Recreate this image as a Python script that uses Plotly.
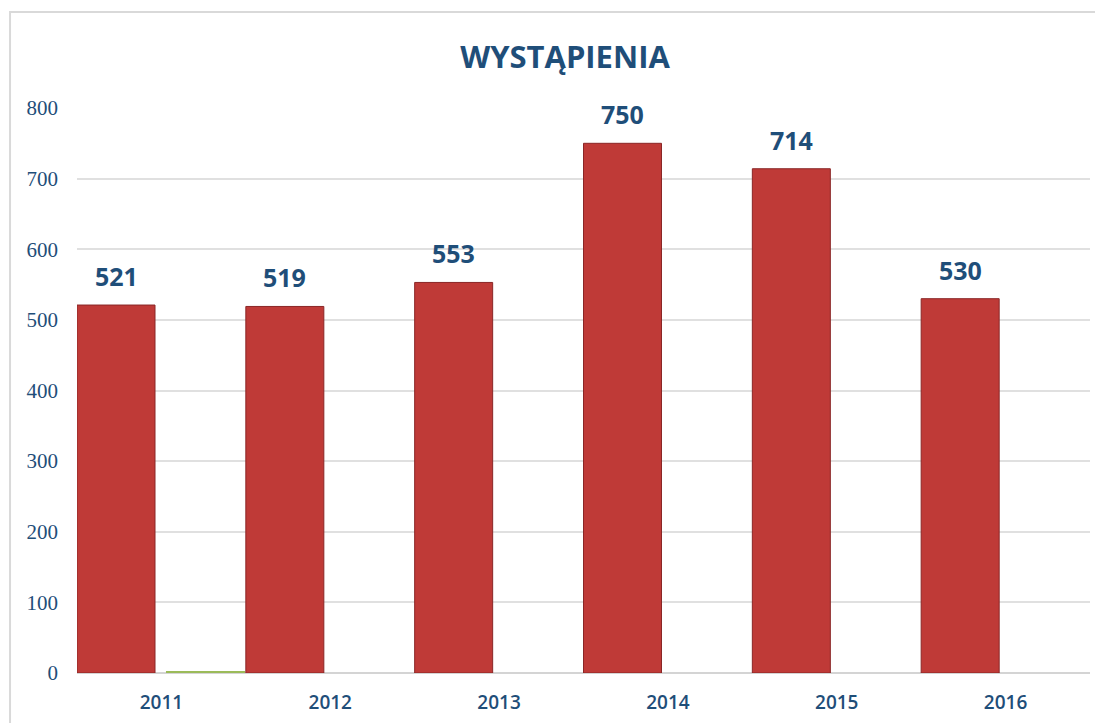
import plotly.graph_objects as go

years = ["2011", "2012", "2013", "2014", "2015", "2016"]
wystapienia = [521, 519, 553, 750, 714, 530]
second_series = [2, 0, 0, 0, 0, 0]
y_ticks = [0, 100, 200, 300, 400, 500, 600, 700, 800]

DARK_BLUE = "#1f4e79"
BAR_RED = "#bf3a37"

W1, OFF1 = 0.462, -0.5
W2, OFF2 = 0.468, 0.027

fig = go.Figure()
fig.add_trace(go.Bar(
    x=years, y=wystapienia, width=W1, offset=OFF1,
    marker=dict(color=BAR_RED, line=dict(color="#8a2626", width=1)),
    name="Wystąpienia", showlegend=False,
))
fig.add_trace(go.Bar(
    x=years, y=second_series, width=W2, offset=OFF2,
    marker=dict(color="#9bbb59", line=dict(width=0)),
    name="", showlegend=False,
))

for i, v in enumerate(wystapienia):
    fig.add_annotation(
        x=i + OFF1 + W1 / 2, y=v, xref="x", yref="y",
        text=f"<b>{v}</b>", showarrow=False, yanchor="bottom", yshift=10,
        font=dict(family="Open Sans", size=25, color=DARK_BLUE),
    )

fig.add_shape(
    type="rect", xref="paper", yref="paper",
    x0=-0.0661, x1=1.03, y0=-0.2, y1=1.170,
    line=dict(color="#d9d9d9", width=2), fillcolor="rgba(0,0,0,0)", layer="below",
)

fig.update_layout(
    width=1103, height=723,
    margin=dict(l=69, r=21, t=100, b=58),
    paper_bgcolor="white", plot_bgcolor="white",
    barmode="group",
    title=dict(
        text="<b>WYSTĄPIENIA</b>", x=0.505, xanchor="center", y=0.932, yanchor="middle",
        font=dict(family="Open Sans", size=31, color=DARK_BLUE),
    ),
    xaxis=dict(
        type="category", range=[-0.5, 5.5], showgrid=False, showline=False,
        tickfont=dict(family="Open Sans", size=19, color=DARK_BLUE, weight=600),
        ticklabelstandoff=16, fixedrange=True,
    ),
    yaxis=dict(
        range=[0, 800], tickvals=y_ticks, showgrid=True, gridcolor="#e0e0e0", gridwidth=1.5,
        zeroline=True, zerolinecolor="#d4d4d4", zerolinewidth=2,
        tickfont=dict(family="Liberation Serif", size=21, color=DARK_BLUE),
        ticklabelstandoff=18,
    ),
)

fig.write_html("out.html")
